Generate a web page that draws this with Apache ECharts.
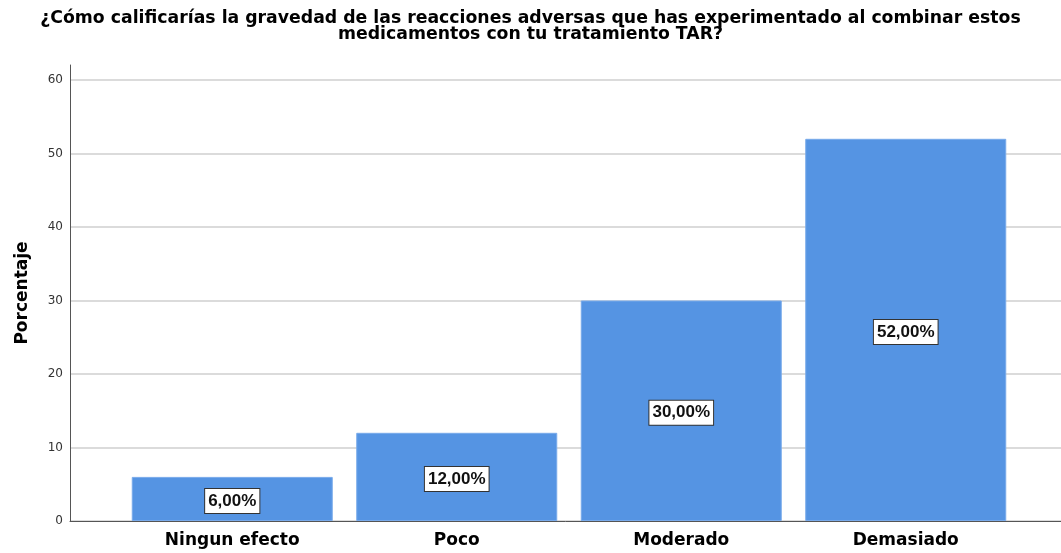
<!DOCTYPE html>
<html>
<head>
<meta charset="utf-8">
<script src="https://cdn.jsdelivr.net/npm/echarts@6/dist/echarts.min.js"></script>
<style>
html,body{margin:0;padding:0;background:#fff;}
#chart{width:1061px;height:553px;}
</style>
</head>
<body>
<div id="chart"></div>
<script>
const titleText = '¿Cómo calificarías la gravedad de las reacciones adversas que has experimentado al combinar estos\nmedicamentos con tu tratamiento TAR?';
const categories = ['Ningun efecto', 'Poco', 'Moderado', 'Demasiado'];
const percentages = [6, 12, 30, 52];
const yAxisName = 'Porcentaje';
const yMin = 0, yMax = 60, yStep = 10;

const chart = echarts.init(document.getElementById('chart'), null, {renderer: 'canvas'});
const axisColor = '#555555';
const option = {
  animation: false,
  backgroundColor: '#ffffff',
  title: {
    text: titleText,
    left: 'center',
    top: 6,
    textStyle: {fontFamily: 'DejaVu Sans', fontWeight: 'bold', fontSize: 17.3, lineHeight: 16, color: '#000'}
  },
  grid: [
    {left: 70, right: 0, top: 65, bottom: 32},
    {left: 70, right: 0, top: 80, bottom: 32},
    {left: 120, right: 43, top: 80, bottom: 32}
  ],
  xAxis: [
    {type: 'value', gridIndex: 0, min: 0, max: 1, axisLine: {show: true, onZero: false, lineStyle: {color: axisColor, width: 1}}, axisTick: {show: false}, axisLabel: {show: false}, splitLine: {show: false}},
    {type: 'value', gridIndex: 1, min: 0, max: 1, show: false},
    {type: 'category', gridIndex: 2, data: categories, axisLine: {show: false}, axisTick: {show: false},
     axisLabel: {margin: 11, fontFamily: 'DejaVu Sans', fontWeight: 'bold', fontSize: 17, color: '#000'}}
  ],
  yAxis: [
    {type: 'value', gridIndex: 0, min: 0, max: 62, axisLine: {show: true, lineStyle: {color: axisColor, width: 1}}, axisTick: {show: false}, axisLabel: {show: false}, splitLine: {show: false},
     name: yAxisName, nameLocation: 'middle', nameGap: 39, nameTextStyle: {fontFamily: 'DejaVu Sans', fontWeight: 'bold', fontSize: 17, color: '#000'}},
    {type: 'value', gridIndex: 1, min: yMin, max: yMax, interval: yStep, axisLine: {show: false}, axisTick: {show: false},
     axisLabel: {margin: 7, fontFamily: 'DejaVu Sans', fontSize: 12, color: '#333'},
     splitLine: {show: true, lineStyle: {color: '#cfcfcf', width: 1.5}}},
    {type: 'value', gridIndex: 2, min: yMin, max: yMax, show: false}
  ],
  series: [{
    type: 'bar',
    xAxisIndex: 2,
    yAxisIndex: 2,
    data: percentages,
    barWidth: 201,
    itemStyle: {color: '#5594E3', borderColor: '#78AAEA', borderWidth: 1},
    label: {
      show: true,
      position: 'inside',
      offset: [0, 2],
      formatter: p => p.value.toFixed(2).replace('.', ',') + '%',
      fontFamily: '"Liberation Sans Narrow", "Liberation Sans", Arial, sans-serif',
      fontWeight: 'bold',
      fontSize: 17,
      color: '#111',
      backgroundColor: '#ffffff',
      borderColor: '#333',
      borderWidth: 1,
      padding: [4, 3, 3, 3]
    }
  }]
};
chart.setOption(option);
</script>
</body>
</html>
